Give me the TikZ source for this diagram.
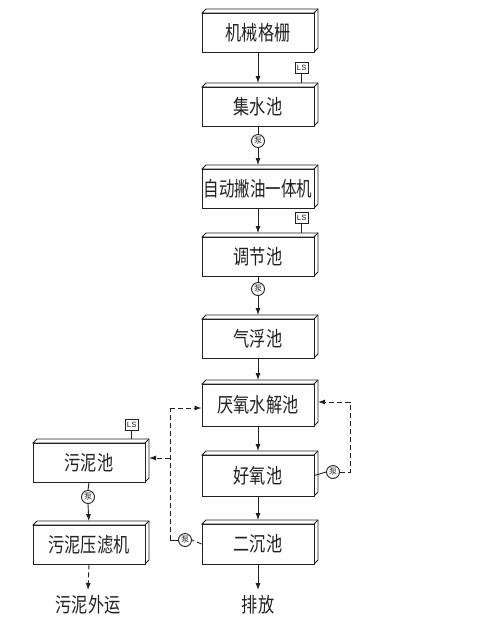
\documentclass[tikz,border=0pt]{standalone}
\usepackage{fontspec}
\setmainfont{Noto Sans CJK SC}[Scale=1]
\newfontfamily\lsfont{Liberation Mono}
\usetikzlibrary{arrows.meta,calc}
\definecolor{ink}{gray}{0.13}
\tikzset{
  x=1pt,y=-1pt,
  cline/.style={draw=ink,line width=0.9pt},
  flow/.style={cline,-{Latex[length=7pt,width=5pt]}},
  flowback/.style={flow,shorten >=3.5pt},
  dashline/.style={cline,dash pattern=on 5pt off 3pt},
  dashflow/.style={dashline,-{Latex[length=7pt,width=5pt]}},
  tank/.style={cline,fill=white,rectangle,inner sep=0pt,font=\fontsize{17}{17}\selectfont,text=ink},
  pump/.style={cline,circle,fill=white,minimum size=13pt,inner sep=0pt,font=\fontsize{8}{8}\selectfont,text=ink},
  lsbox/.style={cline,rectangle,fill=white,minimum width=13pt,minimum height=11pt,inner sep=0pt,font=\lsfont\fontsize{8}{8}\selectfont,text=ink},
  caption/.style={inner sep=0pt,font=\fontsize{17}{17}\selectfont,text=ink},
}
% name, x1, y1, x2, y2, text
\newcommand{\tankbox}[6]{%
  \path[cline,fill=white] (#2,#3) -- (#2+4,#3-4) -- (#4+4,#3-4) -- (#4+4,#5-4) -- (#4,#5) -- (#4,#3) -- cycle;
  \draw[cline] (#4,#3) -- (#4+4,#3-4);
  \node[tank,minimum width=#4pt-#2pt,minimum height=#5pt-#3pt] (#1) at ({(#2+#4)/2},{(#3+#5)/2}) {\scalebox{0.95}[1.2]{#6}};
}
\begin{document}
\begin{tikzpicture}
\useasboundingbox (0,0) rectangle (489,622);
\fill[white] (0,0) rectangle (489,622);
\tankbox{a}{202}{13}{314}{52}{机械格栅}
\tankbox{b}{202}{87}{314}{126}{集水池}
\tankbox{c}{202}{169}{314}{208}{\scalebox{0.96}[1]{自动撇油一体机}}
\tankbox{d}{202}{237}{314}{276}{调节池}
\tankbox{e}{202}{319}{314}{358}{气浮池}
\tankbox{f}{202}{384}{314}{426}{厌氧水解池}
\tankbox{g}{202}{455}{314}{496}{好氧池}
\tankbox{h}{202}{524}{314}{564}{二沉池}
\tankbox{i}{33}{443}{145}{482}{污泥池}
\tankbox{j}{33}{525}{145}{564}{污泥压滤机}
\node[pump] (p1) at (258,141) {泵};
\node[pump] (p2) at (258,289) {泵};
\node[pump] (p3) at (333,472) {泵};
\node[pump] (p4) at (185,540) {泵};
\node[pump] (p5) at (88,497) {泵};
\node[lsbox] (l1) at (301.5,67.5) {LS};
\node[lsbox] (l2) at (301.5,218) {LS};
\node[lsbox] (l3) at (131.5,425) {LS};
\node[caption] (t1) at (88,605) {\scalebox{0.95}[1.2]{污泥外运}};
\node[caption] (t2) at (258,605) {\scalebox{0.95}[1.2]{排放}};
\coordinate (fl) at (170,408);
\coordinate (bl) at (170,458);
\coordinate (bc) at (170,540);
\coordinate (fr) at (350,402);
\coordinate (gr) at (350,472);
\coordinate (fe) at (318,402);
\coordinate (ie) at (149,458);
\coordinate (he) at (258,590);
\coordinate (je) at (88,590);
\coordinate (l1e) at (301.5,83);
\coordinate (l2e) at (301.5,233);
\coordinate (l3e) at (131.5,439);
\draw[cline] (l1.south) -- (l1e);
\draw[cline] (l2.south) -- (l2e);
\draw[cline] (l3.south) -- (l3e);
\draw[flowback] (a.south) -- (b.north);
\draw[cline] (b.south) -- (p1.north);
\draw[flowback] (p1.south) -- (c.north);
\draw[flowback] (c.south) -- (d.north);
\draw[cline] (d.south) -- (p2.north);
\draw[flowback] (p2.south) -- (e.north);
\draw[flowback] (e.south) -- (f.north);
\draw[flowback] (f.south) -- (g.north);
\draw[flowback] (g.south) -- (h.north);
\draw[flow] (h.south) -- (he);
\draw[cline] (i.south) -- (p5.north);
\draw[flowback] (p5.south) -- (j.north);
\draw[dashflow] (j.south) -- (je);
\draw[cline] (g.east) -- (p3.west);
\draw[dashline] (p3.east) -- (gr) -- (fr);
\draw[dashflow] (fr) -- (fe);
\draw[dashline] (h.west) -- (p4.east);
\draw[cline] (p4.west) -- (bc);
\draw[dashline] (bc) -- (fl);
\draw[dashflow] (fl) -- (f.west |- fl);
\draw[dashflow] (bl) -- (ie);
\end{tikzpicture}
\end{document}
